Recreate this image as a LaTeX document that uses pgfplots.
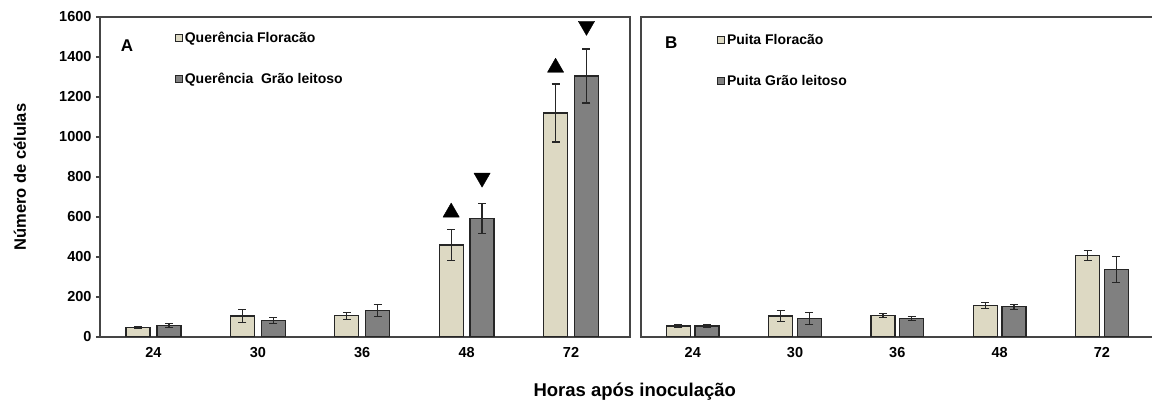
\documentclass[border=0pt]{standalone}
\usepackage{fontspec}
\setmainfont{Liberation Sans}
\usepackage{pgfplots}
\pgfplotsset{compat=1.18}
\usepackage{pgfplotstable}

\definecolor{flor}{HTML}{DDD9C3}
\definecolor{grao}{HTML}{808080}
\definecolor{edge}{HTML}{262626}
\definecolor{axisgray}{HTML}{454545}

% Querência: mean and error per sampling time (24, 30, 36, 48, 72 h);
% xf / xg are the bar positions of the two stages inside each group
\pgfplotstableread{
xf     xg    flor florerr grao graoerr
-0.148 0.148 48   5   56   10
0.852  1.148 105  32  82   16
1.852  2.148 106  17  132  29
2.852  3.148 460  78  593  75
3.852  4.148 1120 145 1305 135
}\querencia

% Puita
\pgfplotstableread{
xf     xg    flor florerr grao graoerr
-0.140 0.140 55  5  55  5
0.860  1.140 105 27 93  30
1.860  2.140 106 10 94  10
2.860  3.140 157 16 151 12
3.860  4.140 407 25 337 65
}\puita

% significance markers above the 48 h and 72 h bars
\pgfplotstableread{
x y
2.852 623
3.852 1347
}\markup
\pgfplotstableread{
x y
3.148 796
4.148 1555
}\markdown

\pgfplotsset{
  panel/.style={
    scale only axis, height=320pt,
    ymin=0, ymax=1600,
    xtick={0,...,4}, xticklabels={24,30,36,48,72},
    x tick style={draw=none},
    ytick pos=left,
    axis line style={axisgray, line width=1.3pt},
    tick style={axisgray, line width=1.1pt},
    tick align=outside, major tick length=4pt,
    /pgf/number format/assume math mode=true,
    /pgf/number format/1000 sep={},
    ticklabel style={font=\bfseries\fontsize{14.5}{16}\selectfont},
    xticklabel style={yshift=-3pt},
    yticklabel style={xshift=-1pt},
    legend style={draw=none, fill=none, cells={anchor=west},
      font=\bfseries\fontsize{14}{16}\selectfont, row sep=25pt,
      inner sep=0pt},
    legend image code/.code={\draw[#1, line width=0.9pt, draw=edge]
      (0pt,-3.5pt) rectangle (7pt,3.5pt);},
  },
  barbase/.style={
    ybar, bar width=24pt, bar shift=0pt, draw=edge, line width=1.3pt,
    error bars/y dir=both, error bars/y explicit,
    error bars/error bar style={line width=1.3pt, color=edge},
    error bars/error mark options={rotate=90, mark size=4pt, line width=1.3pt, color=edge},
  },
}

\begin{document}
\begin{tikzpicture}[x=1pt,y=1pt]
\path[use as bounding box] (0,0) rectangle (1152,403);

% Panel A
\begin{axis}[panel,
  at={(100pt,66pt)}, anchor=south west, width=530pt,
  xmin=-0.512, xmax=4.565,
  ytick={0,200,...,1600},
  ylabel={Número de células},
  ylabel style={at={(axis description cs:-0.151,0.5)}, anchor=center,
    font=\bfseries\fontsize{16.5}{18}\selectfont},
  xlabel={Horas após inoculação},
  xlabel style={at={(axis description cs:1.009,-0.171)}, anchor=center,
    font=\bfseries\fontsize{18.5}{20}\selectfont},
  legend style={at={(axis description cs:0.141,0.959)}, anchor=north west},
]
\addplot[barbase, fill=flor]
  table[x=xf, y=flor, y error=florerr] {\querencia};
\addlegendentry{Querência Floracão}
\addplot[barbase, fill=grao]
  table[x=xg, y=grao, y error=graoerr] {\querencia};
\addlegendentry{Querência\ \ Grão leitoso}
\addplot[only marks, mark=triangle*, mark size=9.4pt, black,
  line join=round, forget plot] table {\markup};
\addplot[only marks, mark=triangle*, mark size=9.4pt, black,
  mark options={rotate=180}, line join=round, forget plot] table {\markdown};
\node[font=\bfseries\fontsize{17}{19}\selectfont]
  at (axis description cs:0.051,0.909) {A};
\end{axis}

% Panel B
\begin{axis}[panel,
  at={(641pt,66pt)}, anchor=south west, width=513pt,
  xmin=-0.506, xmax=4.51,
  ytick=\empty,
  legend style={at={(axis description cs:0.148,0.953)}, anchor=north west},
]
\addplot[barbase, fill=flor]
  table[x=xf, y=flor, y error=florerr] {\puita};
\addlegendentry{Puita Floracão}
\addplot[barbase, fill=grao]
  table[x=xg, y=grao, y error=graoerr] {\puita};
\addlegendentry{Puita Grão leitoso}
\node[font=\bfseries\fontsize{17}{19}\selectfont]
  at (axis description cs:0.059,0.919) {B};
\end{axis}
\end{tikzpicture}
\end{document}
